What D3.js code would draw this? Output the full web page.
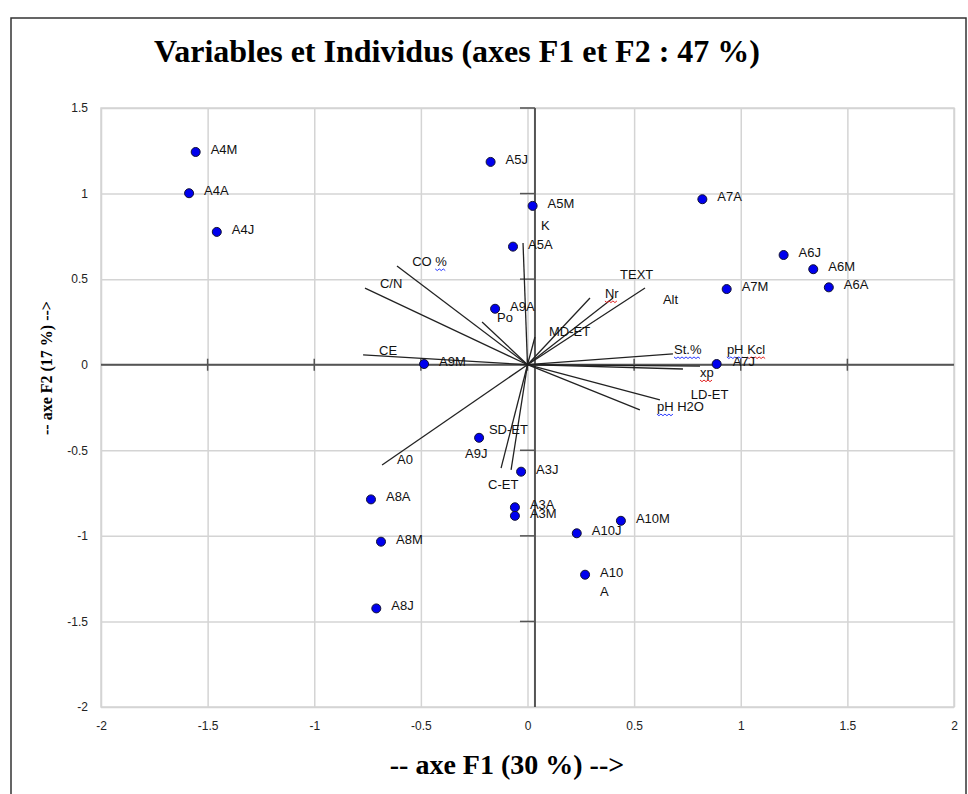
<!DOCTYPE html>
<html>
<head>
<meta charset="UTF-8">
<title>Variables et Individus</title>
<script src="https://d3js.org/d3.v7.min.js"></script>
<style>
  body { margin: 0; background: #fff; }
  text { font-family: "Liberation Sans", Arial, sans-serif; }
</style>
</head>
<body>
<svg class="chart"></svg>
<script>
// individus (observations)
const indNames = ["A4M","A4A","A4J","A5J","A5M","A5A","A9A","A9M","A7A","A6J","A6M","A6A",
                  "A7M","A7J","A9J","A3J","A8A","A3A","A3M","A8M","A10M","A10J","A10A","A8J"];
const indF1 = [-1.556,-1.587,-1.457,-0.173,0.024,-0.068,-0.152,-0.485,0.820,1.201,1.340,1.413,
               0.934,0.887,-0.227,-0.030,-0.734,-0.059,-0.059,-0.687,0.438,0.231,0.270,-0.709];
const indF2 = [1.243,1.002,0.776,1.185,0.928,0.690,0.327,0.004,0.967,0.641,0.558,0.452,
               0.442,0.004,-0.427,-0.625,-0.787,-0.833,-0.883,-1.034,-0.912,-0.985,-1.227,-1.424];

// variables (vecteurs)
const varNames = ["CO %","C/N","CE","A0","K","Po","MD-ET","Alt","Nr","TEXT",
                  "St.%","pH Kcl","xp","LD-ET","pH H2O","SD-ET","C-ET"];
const varF1 = [-0.612,-0.762,-0.771,-0.682,-0.021,-0.213,0.035,0.293,0.401,0.551,
               0.682,0.809,0.729,0.621,0.527,-0.124,-0.077];
const varF2 = [0.577,0.448,0.057,-0.586,0.711,0.250,0.162,0.390,0.390,0.448,
               0.063,-0.008,-0.025,-0.206,-0.264,-0.604,-0.615];
// where each variable name sits (F1, F2 of the text start)
const varLabF1 = [-0.541,-0.692,-0.696,-0.612,0.063,-0.143,0.101,0.635,0.363,0.434,
                  0.687,0.935,0.809,0.766,0.607,-0.181,-0.185];
const varLabF2 = [0.577,0.448,0.057,-0.580,0.787,0.250,0.168,0.355,0.390,0.501,
                  0.063,0.063,-0.072,-0.200,-0.271,-0.402,-0.726];

const ticksF1 = [-2,-1.5,-1,-0.5,0,0.5,1,1.5,2];
const ticksF2 = [-2,-1.5,-1,-0.5,0,0.5,1,1.5];
const axisF2At = 0.035;   // the drawn F2 axis sits a bit right of 0

const width = 968, height = 794;
const plot = {left: 101, right: 954, top: 108, bottom: 707};

const svg = d3.select(".chart")
    .attr("width", width)
    .attr("height", height);

const x = d3.scaleLinear().domain([-2, 2]).range([plot.left, plot.right]);
const y = d3.scaleLinear().domain([-2, 1.5]).range([plot.bottom, plot.top]);

// outer frame
svg.append("rect")
    .attr("x", 11).attr("y", 18)
    .attr("width", 955).attr("height", 800)
    .style("fill", "none").style("stroke", "#333").style("stroke-width", 1.5);

// title
svg.append("text")
    .attr("x", 457).attr("y", 62)
    .attr("text-anchor", "middle")
    .style("font-family", "'Liberation Serif', 'Times New Roman', serif")
    .style("font-weight", "bold")
    .style("font-size", "32px")
    .text("Variables et Individus (axes F1 et F2 : 47 %)");

// grid
svg.append("g")
    .attr("transform", `translate(0, ${plot.bottom})`)
    .call(d3.axisBottom(x).tickValues(ticksF1).tickSize(-(plot.bottom - plot.top)).tickFormat(""))
    .call(g => g.select(".domain").remove())
    .call(g => g.selectAll("line").style("stroke", "#d4d4d4").style("stroke-width", 1.5));

svg.append("g")
    .attr("transform", `translate(${plot.left}, 0)`)
    .call(d3.axisLeft(y).tickValues(ticksF2).tickSize(-(plot.right - plot.left)).tickFormat(""))
    .call(g => g.select(".domain").remove())
    .call(g => g.selectAll("line").style("stroke", "#d4d4d4").style("stroke-width", 1.5));

svg.append("rect")
    .attr("x", plot.left).attr("y", plot.top)
    .attr("width", plot.right - plot.left).attr("height", plot.bottom - plot.top)
    .style("fill", "none").style("stroke", "#d4d4d4").style("stroke-width", 1.5);

// tick labels
const xt = svg.append("g")
    .attr("transform", `translate(0, ${plot.bottom})`)
    .call(d3.axisBottom(x).tickValues(ticksF1).tickSize(0).tickPadding(14).tickFormat(d => String(d)));
xt.select(".domain").remove();
xt.selectAll("text").style("font-size", "12px").style("fill", "#222")
    .style("font-family", "'Liberation Sans', Arial, sans-serif");

const yt = svg.append("g")
    .attr("transform", `translate(${plot.left}, 0)`)
    .call(d3.axisLeft(y).tickValues(ticksF2).tickSize(0).tickPadding(13).tickFormat(d => String(d)));
yt.select(".domain").remove();
yt.selectAll("text").style("font-size", "12px").style("fill", "#222")
    .style("font-family", "'Liberation Sans', Arial, sans-serif");

// axis titles
svg.append("text")
    .attr("x", 507).attr("y", 774)
    .attr("text-anchor", "middle")
    .style("font-family", "'Liberation Serif', 'Times New Roman', serif")
    .style("font-weight", "bold")
    .style("font-size", "28px")
    .text("-- axe F1 (30 %) -->");

svg.append("text")
    .attr("transform", `translate(52, 368) rotate(-90)`)
    .attr("text-anchor", "middle")
    .style("font-family", "'Liberation Serif', 'Times New Roman', serif")
    .style("font-weight", "bold")
    .style("font-size", "16px")
    .text("-- axe F2 (17 %) -->");

// central axes
const axisColor = "#555";
svg.append("line")
    .attr("x1", plot.left).attr("x2", plot.right)
    .attr("y1", y(0)).attr("y2", y(0))
    .style("stroke", axisColor).style("stroke-width", 2);
svg.append("line")
    .attr("x1", x(axisF2At)).attr("x2", x(axisF2At))
    .attr("y1", plot.top).attr("y2", plot.bottom)
    .style("stroke", axisColor).style("stroke-width", 2);

svg.append("g").selectAll("line")
    .data(ticksF1.slice(1, -1)).enter().append("line")
    .attr("x1", d => x(d)).attr("x2", d => x(d))
    .attr("y1", y(0) - 6).attr("y2", y(0) + 6)
    .style("stroke", axisColor).style("stroke-width", 1.5);

svg.append("g").selectAll("line")
    .data(ticksF2.slice(1)).enter().append("line")
    .attr("x1", x(axisF2At) - 15).attr("x2", x(axisF2At))
    .attr("y1", d => y(d)).attr("y2", d => y(d))
    .style("stroke", axisColor).style("stroke-width", 1.5);

// variable vectors
const vars = varNames.map((n, i) => ({name: n, f1: varF1[i], f2: varF2[i], lf1: varLabF1[i], lf2: varLabF2[i]}));

svg.append("g").selectAll("line")
    .data(vars).enter().append("line")
    .attr("x1", x(0)).attr("y1", y(0))
    .attr("x2", d => x(d.f1)).attr("y2", d => y(d.f2))
    .style("stroke", "#222").style("stroke-width", 1.3);

// spell-check squiggles of the source document
const squiggle = {
  "CO %": [["CO ", null], ["%", "#2b3bff"]],
  "Nr": [["Nr", "#e02020"]],
  "St.%": [["St.%", "#2b3bff"]],
  "pH Kcl": [["pH", "#2b3bff"], [" ", null], ["Kcl", "#e02020"]],
  "xp": [["xp", "#e02020"]],
  "pH H2O": [["pH", "#2b3bff"], [" H2O", null]]
};

const waves = svg.append("g");
const vl = svg.append("g").selectAll("text")
    .data(vars).enter().append("text")
    .attr("x", d => x(d.lf1)).attr("y", d => y(d.lf2))
    .style("font-size", "13px").style("fill", "#111");

vl.each(function(d) {
  const t = d3.select(this);
  const parts = squiggle[d.name] || [[d.name, null]];
  parts.forEach(p => {
    const s = t.append("tspan").text(p[0]);
    if (p[1]) {
      const node = s.node();
      const x0 = node.getStartPositionOfChar(0).x;
      const x1 = x0 + node.getComputedTextLength();
      const yb = y(d.lf2) + 3;
      let path = `M${x0},${yb}`;
      for (let xx = x0 + 2, k = 0; xx <= x1 + 0.1; xx += 2, k++) {
        path += `L${xx},${yb + (k % 2 === 0 ? 1.6 : 0)}`;
      }
      waves.append("path").attr("d", path)
          .style("fill", "none").style("stroke", p[1]).style("stroke-width", 1);
    }
  });
});

// individuals
const inds = indNames.map((n, i) => ({name: n, f1: indF1[i], f2: indF2[i]}));

svg.append("g").selectAll("circle")
    .data(inds).enter().append("circle")
    .attr("cx", d => x(d.f1)).attr("cy", d => y(d.f2))
    .attr("r", 4.5)
    .style("fill", "#0000ee").style("stroke", "#111133").style("stroke-width", 1);

const labelShift = {"A9J": [-14, 20], "A7J": [16, 2]};

const il = svg.append("g").selectAll("text")
    .data(inds).enter().append("text")
    .attr("x", d => x(d.f1) + (labelShift[d.name] ? labelShift[d.name][0] : 15))
    .attr("y", d => y(d.f2) + (labelShift[d.name] ? labelShift[d.name][1] : 2))
    .style("font-size", "13px").style("fill", "#111");

il.each(function(d) {
  const t = d3.select(this);
  if (d.name === "A10A") {
    t.append("tspan").text("A10");
    t.append("tspan").attr("x", t.attr("x")).attr("dy", 19).text("A");
  } else {
    t.text(d.name);
  }
});
</script>
</body>
</html>
